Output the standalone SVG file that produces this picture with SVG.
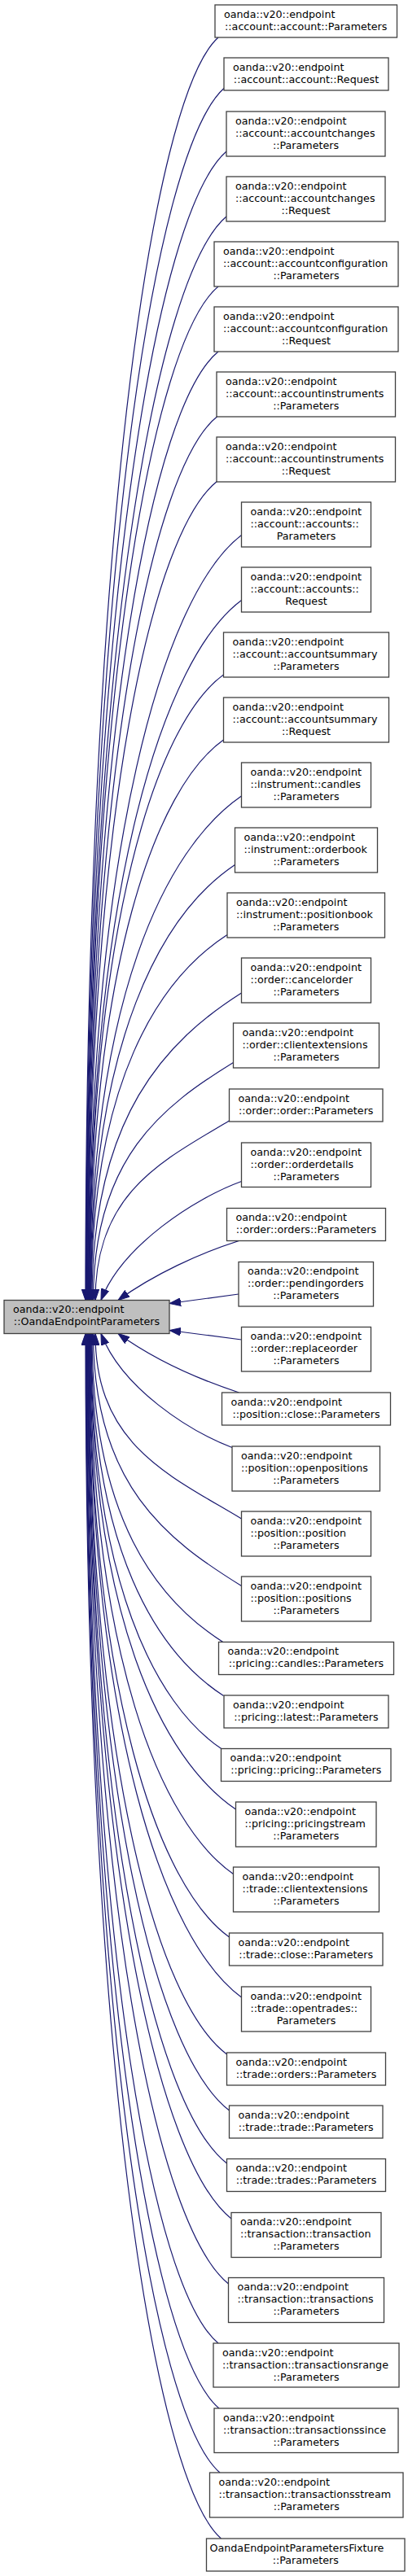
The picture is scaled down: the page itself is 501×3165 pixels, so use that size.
<svg xmlns="http://www.w3.org/2000/svg" width="501" height="3165" viewBox="0 0 501 3165">
<style>
.n rect{fill:#ffffff;stroke:#404040;stroke-width:1.3}
.b rect{fill:#bfbfbf;stroke:#404040;stroke-width:1.3}
text{font-family:"DejaVu Sans","Liberation Sans",sans-serif;font-size:12.7px;fill:#000}
text.c{text-anchor:middle}
#edges path{fill:none;stroke:#191970;stroke-width:1.2;marker-end:url(#ah)}
</style>
<defs>
<marker id="ah" markerUnits="userSpaceOnUse" markerWidth="14" markerHeight="10" viewBox="0 0 13 9" refX="13" refY="4.5" orient="auto">
<path d="M0,0 L13,4.5 L0,9 z" fill="#191970" stroke="#191970" stroke-width="1"/>
</marker>
</defs>
<rect x="0" y="0" width="501" height="3165" fill="#ffffff"/>
<g id="edges">
<path d="M268,46 C186.5,119.4 105,666.6 105,1597.5"/>
<path d="M275.5,108 C190.5,183.3 105.5,703.8 105.5,1597.5"/>
<path d="M278,186 C192,260.7 106,750.6 106,1597.5"/>
<path d="M278,266 C192.25,338.9 106.5,798.6 106.5,1597.5"/>
<path d="M268,352 C187.5,418.9 107,850.2 107,1597.5"/>
<path d="M268,432 C187.75,497.2 107.5,898.2 107.5,1597.5"/>
<path d="M267,511.5 C187.5,574.7 108,945.9 108,1597.5"/>
<path d="M267,591 C187.75,652.6 108.5,993.6 108.5,1597.5"/>
<path d="M296.5,657.5 C202.75,728.9 109,1033.5 109,1597.5"/>
<path d="M296.5,737.5 C203,807.1 109.5,1081.5 109.5,1597.5"/>
<path d="M274.5,829 C192.25,888.5 110,1136.4 110,1597.5"/>
<path d="M274.5,909 C192.5,966.8 110.5,1184.4 110.5,1597.5"/>
<path d="M296.5,978 C203.75,1042 111,1225.8 111,1597.5"/>
<path d="M288.5,1062.5 C200,1121.9 111.5,1276.5 111.5,1597.5"/>
<path d="M279,1148.5 C195.5,1202.9 112,1328.1 112,1597.5"/>
<path d="M296.5,1220 C204.75,1278.3 113,1371 113,1597.5"/>
<path d="M286.5,1305.5 C200.5,1358.5 114.5,1422.3 114.5,1597.5"/>
<path d="M281.5,1377 C199.25,1426.3 117,1465.2 117,1597.5"/>
<path d="M296.5,1451.5 C240,1472 150,1530 124,1597.5"/>
<path d="M293.5,1524.5 C245,1540 190,1565 145,1597.5"/>
<path d="M293,1590 L208,1601.5"/>
<path d="M296.5,1646 L208,1634.5"/>
<path d="M293.5,1711 C245,1695 190,1671 145,1638.5"/>
<path d="M285,1778.5 C232,1758 150,1706 124,1638.5"/>
<path d="M296.5,1866 C206.75,1812 117,1775 117,1638.5"/>
<path d="M296.5,1948.5 C205.5,1892.1 114.5,1824.5 114.5,1638.5"/>
<path d="M274.5,2018 C193.75,1966.7 113,1866.2 113,1638.5"/>
<path d="M274.5,2083.5 C193.25,2030.7 112,1905.5 112,1638.5"/>
<path d="M272.5,2149 C192,2095.5 111.5,1944.8 111.5,1638.5"/>
<path d="M289.5,2223 C200.25,2162.1 111,1989.2 111,1638.5"/>
<path d="M286.5,2302.5 C198.5,2240.9 110.5,2036.9 110.5,1638.5"/>
<path d="M281.5,2380 C195.75,2318.5 110,2083.4 110,1638.5"/>
<path d="M296.5,2454 C203,2385.4 109.5,2127.8 109.5,1638.5"/>
<path d="M278.5,2524 C193.75,2460.5 109,2169.8 109,1638.5"/>
<path d="M281.5,2593 C195,2526.8 108.5,2211.2 108.5,1638.5"/>
<path d="M278.5,2658 C193.25,2591.5 108,2250.2 108,1638.5"/>
<path d="M284,2726 C195.75,2655.8 107.5,2291 107.5,1638.5"/>
<path d="M280.5,2806 C193.75,2735.4 107,2339 107,1638.5"/>
<path d="M268,2879 C187.25,2812 106.5,2382.8 106.5,1638.5"/>
<path d="M269,2959 C187.5,2889.9 106,2430.8 106,1638.5"/>
<path d="M270,3038 C187.75,2966.8 105.5,2478.2 105.5,1638.5"/>
<path d="M271.5,3119 C188.25,3045.4 105,2526.8 105,1638.5"/>
</g>
<g id="base" class="b"><rect x="5" y="1597.5" width="203" height="41"/><text x="16" y="1613.1">oanda::v20::endpoint</text><text class="c" x="106.5" y="1628.1">::OandaEndpointParameters</text></g>
<g id="n1" class="n"><rect x="264" y="6" width="223.5" height="40"/><text x="275" y="21.6">oanda::v20::endpoint</text><text class="c" x="375.75" y="36.6">::account::account::Parameters</text></g>
<g id="n2" class="n"><rect x="275" y="71" width="202" height="40"/><text x="286" y="86.6">oanda::v20::endpoint</text><text class="c" x="376" y="101.6">::account::account::Request</text></g>
<g id="n3" class="n"><rect x="278" y="137" width="195" height="55"/><text x="289" y="152.6">oanda::v20::endpoint</text><text x="289" y="167.6">::account::accountchanges</text><text class="c" x="375.5" y="182.6">::Parameters</text></g>
<g id="n4" class="n"><rect x="278" y="217" width="195" height="55"/><text x="289" y="232.6">oanda::v20::endpoint</text><text x="289" y="247.6">::account::accountchanges</text><text class="c" x="375.5" y="262.6">::Request</text></g>
<g id="n5" class="n"><rect x="263" y="297" width="226" height="55"/><text x="274" y="312.6">oanda::v20::endpoint</text><text x="274" y="327.6">::account::accountconfiguration</text><text class="c" x="376" y="342.6">::Parameters</text></g>
<g id="n6" class="n"><rect x="263" y="377" width="226" height="55"/><text x="274" y="392.6">oanda::v20::endpoint</text><text x="274" y="407.6">::account::accountconfiguration</text><text class="c" x="376" y="422.6">::Request</text></g>
<g id="n7" class="n"><rect x="266" y="457" width="219.5" height="55"/><text x="277" y="472.6">oanda::v20::endpoint</text><text x="277" y="487.6">::account::accountinstruments</text><text class="c" x="375.75" y="502.6">::Parameters</text></g>
<g id="n8" class="n"><rect x="266" y="537" width="219.5" height="55"/><text x="277" y="552.6">oanda::v20::endpoint</text><text x="277" y="567.6">::account::accountinstruments</text><text class="c" x="375.75" y="582.6">::Request</text></g>
<g id="n9" class="n"><rect x="296.5" y="617" width="159" height="55"/><text x="307.5" y="632.6">oanda::v20::endpoint</text><text x="307.5" y="647.6">::account::accounts::</text><text class="c" x="376" y="662.6">Parameters</text></g>
<g id="n10" class="n"><rect x="296.5" y="697" width="159" height="55"/><text x="307.5" y="712.6">oanda::v20::endpoint</text><text x="307.5" y="727.6">::account::accounts::</text><text class="c" x="376" y="742.6">Request</text></g>
<g id="n11" class="n"><rect x="274.5" y="777" width="203" height="55"/><text x="285.5" y="792.6">oanda::v20::endpoint</text><text x="285.5" y="807.6">::account::accountsummary</text><text class="c" x="376" y="822.6">::Parameters</text></g>
<g id="n12" class="n"><rect x="274.5" y="857" width="203" height="55"/><text x="285.5" y="872.6">oanda::v20::endpoint</text><text x="285.5" y="887.6">::account::accountsummary</text><text class="c" x="376" y="902.6">::Request</text></g>
<g id="n13" class="n"><rect x="296.5" y="937" width="159" height="55"/><text x="307.5" y="952.6">oanda::v20::endpoint</text><text x="307.5" y="967.6">::instrument::candles</text><text class="c" x="376" y="982.6">::Parameters</text></g>
<g id="n14" class="n"><rect x="288.5" y="1017" width="175" height="55"/><text x="299.5" y="1032.6">oanda::v20::endpoint</text><text x="299.5" y="1047.6">::instrument::orderbook</text><text class="c" x="376" y="1062.6">::Parameters</text></g>
<g id="n15" class="n"><rect x="279" y="1097" width="193.5" height="55"/><text x="290" y="1112.6">oanda::v20::endpoint</text><text x="290" y="1127.6">::instrument::positionbook</text><text class="c" x="375.75" y="1142.6">::Parameters</text></g>
<g id="n16" class="n"><rect x="296.5" y="1177" width="159" height="55"/><text x="307.5" y="1192.6">oanda::v20::endpoint</text><text x="307.5" y="1207.6">::order::cancelorder</text><text class="c" x="376" y="1222.6">::Parameters</text></g>
<g id="n17" class="n"><rect x="286.5" y="1257" width="179" height="55"/><text x="297.5" y="1272.6">oanda::v20::endpoint</text><text x="297.5" y="1287.6">::order::clientextensions</text><text class="c" x="376" y="1302.6">::Parameters</text></g>
<g id="n18" class="n"><rect x="281.5" y="1338" width="188.5" height="40"/><text x="292.5" y="1353.6">oanda::v20::endpoint</text><text class="c" x="375.75" y="1368.6">::order::order::Parameters</text></g>
<g id="n19" class="n"><rect x="296.5" y="1404" width="159" height="54.5"/><text x="307.5" y="1419.6">oanda::v20::endpoint</text><text x="307.5" y="1434.6">::order::orderdetails</text><text class="c" x="376" y="1449.6">::Parameters</text></g>
<g id="n20" class="n"><rect x="278.5" y="1484.5" width="195" height="40"/><text x="289.5" y="1500.1">oanda::v20::endpoint</text><text class="c" x="376" y="1515.1">::order::orders::Parameters</text></g>
<g id="n21" class="n"><rect x="293" y="1550.5" width="165.5" height="54.5"/><text x="304" y="1566.1">oanda::v20::endpoint</text><text x="304" y="1581.1">::order::pendingorders</text><text class="c" x="375.75" y="1596.1">::Parameters</text></g>
<g id="n22" class="n"><rect x="296.5" y="1630.5" width="159" height="54.5"/><text x="307.5" y="1646.1">oanda::v20::endpoint</text><text x="307.5" y="1661.1">::order::replaceorder</text><text class="c" x="376" y="1676.1">::Parameters</text></g>
<g id="n23" class="n"><rect x="272.5" y="1711" width="207" height="40"/><text x="283.5" y="1726.6">oanda::v20::endpoint</text><text class="c" x="376" y="1741.6">::position::close::Parameters</text></g>
<g id="n24" class="n"><rect x="285" y="1777" width="181.5" height="55"/><text x="296" y="1792.6">oanda::v20::endpoint</text><text x="296" y="1807.6">::position::openpositions</text><text class="c" x="375.75" y="1822.6">::Parameters</text></g>
<g id="n25" class="n"><rect x="296.5" y="1857" width="159" height="55"/><text x="307.5" y="1872.6">oanda::v20::endpoint</text><text x="307.5" y="1887.6">::position::position</text><text class="c" x="376" y="1902.6">::Parameters</text></g>
<g id="n26" class="n"><rect x="296.5" y="1937" width="159" height="55"/><text x="307.5" y="1952.6">oanda::v20::endpoint</text><text x="307.5" y="1967.6">::position::positions</text><text class="c" x="376" y="1982.6">::Parameters</text></g>
<g id="n27" class="n"><rect x="268.5" y="2017.5" width="215" height="40"/><text x="279.5" y="2033.1">oanda::v20::endpoint</text><text class="c" x="376" y="2048.1">::pricing::candles::Parameters</text></g>
<g id="n28" class="n"><rect x="275" y="2083" width="202" height="40"/><text x="286" y="2098.6">oanda::v20::endpoint</text><text class="c" x="376" y="2113.6">::pricing::latest::Parameters</text></g>
<g id="n29" class="n"><rect x="271.5" y="2148.5" width="208.5" height="40"/><text x="282.5" y="2164.1">oanda::v20::endpoint</text><text class="c" x="375.75" y="2179.1">::pricing::pricing::Parameters</text></g>
<g id="n30" class="n"><rect x="289.5" y="2214" width="172.5" height="55"/><text x="300.5" y="2229.6">oanda::v20::endpoint</text><text x="300.5" y="2244.6">::pricing::pricingstream</text><text class="c" x="375.75" y="2259.6">::Parameters</text></g>
<g id="n31" class="n"><rect x="286.5" y="2294" width="179" height="55"/><text x="297.5" y="2309.6">oanda::v20::endpoint</text><text x="297.5" y="2324.6">::trade::clientextensions</text><text class="c" x="376" y="2339.6">::Parameters</text></g>
<g id="n32" class="n"><rect x="281.5" y="2375" width="188.5" height="40"/><text x="292.5" y="2390.6">oanda::v20::endpoint</text><text class="c" x="375.75" y="2405.6">::trade::close::Parameters</text></g>
<g id="n33" class="n"><rect x="296.5" y="2441" width="159" height="55"/><text x="307.5" y="2456.6">oanda::v20::endpoint</text><text x="307.5" y="2471.6">::trade::opentrades::</text><text class="c" x="376" y="2486.6">Parameters</text></g>
<g id="n34" class="n"><rect x="278.5" y="2522" width="195" height="40"/><text x="289.5" y="2537.6">oanda::v20::endpoint</text><text class="c" x="376" y="2552.6">::trade::orders::Parameters</text></g>
<g id="n35" class="n"><rect x="281.5" y="2587" width="188.5" height="40"/><text x="292.5" y="2602.6">oanda::v20::endpoint</text><text class="c" x="375.75" y="2617.6">::trade::trade::Parameters</text></g>
<g id="n36" class="n"><rect x="278.5" y="2652.5" width="195" height="40"/><text x="289.5" y="2668.1">oanda::v20::endpoint</text><text class="c" x="376" y="2683.1">::trade::trades::Parameters</text></g>
<g id="n37" class="n"><rect x="284" y="2718.5" width="184" height="55"/><text x="295" y="2734.1">oanda::v20::endpoint</text><text x="295" y="2749.1">::transaction::transaction</text><text class="c" x="376" y="2764.1">::Parameters</text></g>
<g id="n38" class="n"><rect x="280.5" y="2798.5" width="191" height="55"/><text x="291.5" y="2814.1">oanda::v20::endpoint</text><text x="291.5" y="2829.1">::transaction::transactions</text><text class="c" x="376" y="2844.1">::Parameters</text></g>
<g id="n39" class="n"><rect x="262" y="2879" width="228" height="54"/><text x="273" y="2894.6">oanda::v20::endpoint</text><text x="273" y="2909.6">::transaction::transactionsrange</text><text class="c" x="376" y="2924.6">::Parameters</text></g>
<g id="n40" class="n"><rect x="263" y="2959" width="226" height="54.5"/><text x="274" y="2974.6">oanda::v20::endpoint</text><text x="274" y="2989.6">::transaction::transactionssince</text><text class="c" x="376" y="3004.6">::Parameters</text></g>
<g id="n41" class="n"><rect x="257.5" y="3038" width="237.5" height="55"/><text x="268.5" y="3053.6">oanda::v20::endpoint</text><text x="268.5" y="3068.6">::transaction::transactionsstream</text><text class="c" x="376.25" y="3083.6">::Parameters</text></g>
<g id="n42" class="n"><rect x="253.5" y="3119" width="243.5" height="40"/><text x="257.5" y="3134.6">OandaEndpointParametersFixture</text><text class="c" x="375.25" y="3149.6">::Parameters</text></g>
</svg>
